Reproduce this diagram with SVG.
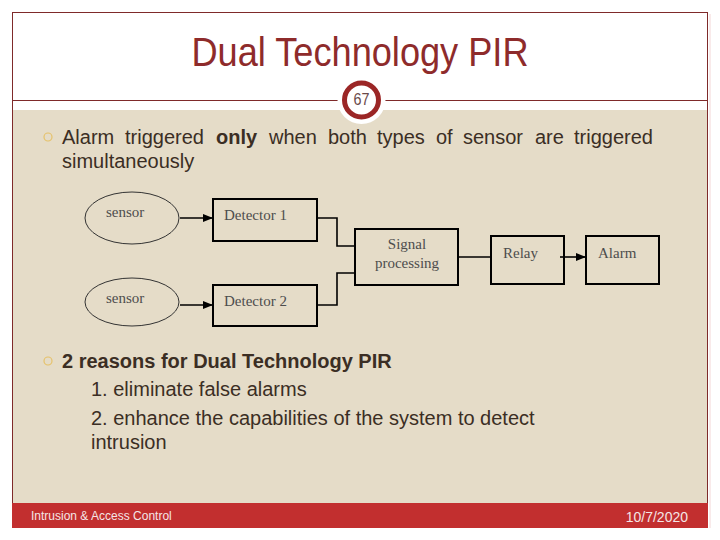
<svg xmlns="http://www.w3.org/2000/svg" width="720" height="540" viewBox="0 0 720 540">
  <defs>
    <style>
      .body { font-family: "Liberation Sans", Arial, sans-serif; font-size: 20px; fill: #3b2e24; }
      .bold { font-weight: bold; }
      .dtext { font-family: "Liberation Serif", "Times New Roman", serif; font-size: 15px; fill: #4d4d4d; }
      .box { fill: none; stroke: #000; stroke-width: 2; }
      .conn { fill: none; stroke: #000; stroke-width: 1.6; }
      .ell { fill: none; stroke: #333; stroke-width: 1; }
      .bullet { fill: none; stroke: #e6c26a; stroke-width: 1.2; }
    </style>
    <marker id="arrow" viewBox="0 0 10 10" refX="10" refY="5" markerWidth="10" markerHeight="10" markerUnits="userSpaceOnUse" orient="auto">
      <path d="M0,1 L10,5 L0,9 Z" fill="#000"/>
    </marker>
  </defs>

  <!-- page -->
  <rect x="0" y="0" width="720" height="540" fill="#ffffff"/>
  <rect x="12.5" y="110" width="695" height="393" fill="#e5dcc8"/>
  <rect x="12.5" y="12.5" width="695" height="515" fill="none" stroke="#7f2a2a" stroke-width="1"/>
  <line x1="12.5" y1="100.5" x2="707.5" y2="100.5" stroke="#7f2a2a" stroke-width="1"/>
  <line x1="710" y1="14" x2="710" y2="528" stroke="#f3d6d6" stroke-width="1"/>

  <!-- title -->
  <text x="360" y="66" text-anchor="middle" font-family="'Liberation Sans Narrow', 'Liberation Sans', Arial, sans-serif" font-size="40" fill="#8e2b2b" textLength="337" lengthAdjust="spacingAndGlyphs">Dual Technology PIR</text>

  <!-- page number badge -->
  <g id="badge">
    <circle cx="361.5" cy="100" r="24" fill="#ffffff"/>
    <circle cx="361.5" cy="100" r="17" fill="#ffffff" stroke="#9b2626" stroke-width="5"/>
    <text x="361.5" y="105" text-anchor="middle" font-family="'Liberation Sans Narrow', 'Liberation Sans', Arial, sans-serif" font-size="17" fill="#6b4a4a" textLength="16" lengthAdjust="spacingAndGlyphs">67</text>
  </g>

  <!-- bullet 1 -->
  <circle class="bullet" cx="48" cy="137" r="4"/>
  <text class="body" y="144"><tspan x="62">Alarm</tspan><tspan x="125">triggered</tspan><tspan x="216" class="bold">only</tspan><tspan x="269">when</tspan><tspan x="328">both</tspan><tspan x="377">types</tspan><tspan x="436">of</tspan><tspan x="463">sensor</tspan><tspan x="535">are</tspan><tspan x="574">triggered</tspan></text>
  <text class="body" x="62" y="168">simultaneously</text>

  <!-- diagram -->
  <g id="connectors">
    <line class="conn" x1="180" y1="218" x2="213" y2="218" marker-end="url(#arrow)"/>
    <line class="conn" x1="180" y1="305" x2="213" y2="305" marker-end="url(#arrow)"/>
    <polyline class="conn" points="317,218 337,218 337,246 355,246"/>
    <polyline class="conn" points="317,305 337,305 337,273 355,273"/>
    <line class="conn" x1="458" y1="257" x2="491" y2="257" stroke-width="2"/>
    <line class="conn" x1="560" y1="257" x2="586" y2="257" stroke-width="2" marker-end="url(#arrow)"/>
  </g>

  <g id="sensor1">
    <ellipse class="ell" cx="132" cy="218" rx="47" ry="26"/>
    <text class="dtext" x="106" y="217">sensor</text>
  </g>
  <g id="sensor2">
    <ellipse class="ell" cx="132" cy="302" rx="47" ry="24"/>
    <text class="dtext" x="106" y="303">sensor</text>
  </g>
  <g id="detector1">
    <rect class="box" x="213" y="199" width="104" height="42"/>
    <text class="dtext" x="224" y="220">Detector 1</text>
  </g>
  <g id="detector2">
    <rect class="box" x="213" y="285" width="104" height="41"/>
    <text class="dtext" x="224" y="306">Detector 2</text>
  </g>
  <g id="signal">
    <rect class="box" x="355" y="229" width="103" height="56"/>
    <text class="dtext" x="407" y="249" text-anchor="middle">Signal</text>
    <text class="dtext" x="407" y="268" text-anchor="middle">processing</text>
  </g>
  <g id="relay">
    <rect class="box" x="491" y="236" width="73" height="48"/>
    <text class="dtext" x="503" y="258">Relay</text>
  </g>
  <g id="alarm">
    <rect class="box" x="586" y="236" width="73" height="48"/>
    <text class="dtext" x="598" y="258">Alarm</text>
  </g>

  <!-- bullet 2 -->
  <circle class="bullet" cx="48" cy="361" r="4"/>
  <text class="body bold" x="62" y="368">2 reasons for Dual Technology PIR</text>
  <text class="body" x="91" y="396">1. eliminate false alarms</text>
  <text class="body" x="91" y="425">2. enhance the capabilities of the system to detect</text>
  <text class="body" x="91" y="449">intrusion</text>

  <!-- footer -->
  <rect x="12" y="503" width="696" height="25" fill="#c22f2f"/>
  <text x="31" y="520" font-family="'Liberation Sans', Arial, sans-serif" font-size="12" fill="#f4e6e6">Intrusion &amp; Access Control</text>
  <text x="688" y="522" text-anchor="end" font-family="'Liberation Sans', Arial, sans-serif" font-size="14" fill="#f4e6e6">10/7/2020</text>
</svg>
